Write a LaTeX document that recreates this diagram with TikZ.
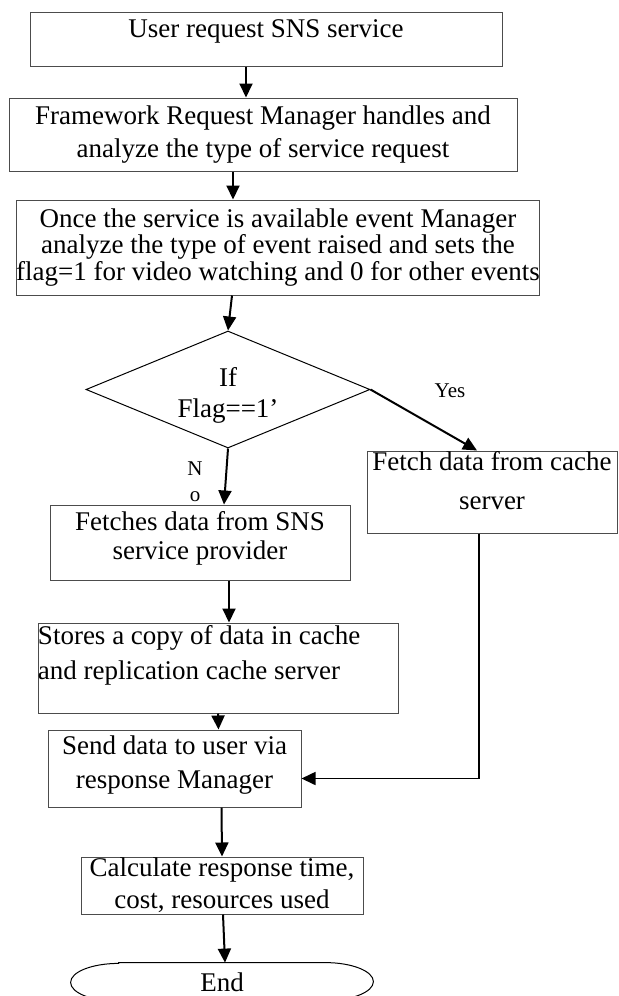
\documentclass[tikz,border=0pt]{standalone}
\usepackage{fontspec}
\setmainfont{Liberation Serif}
\usepackage{tikz}
\usetikzlibrary{arrows.meta,shapes.geometric}
\newcommand{\fsz}[1]{\fontsize{13.5}{#1}\selectfont}

\begin{document}
\begin{tikzpicture}[x=0.5pt,y=-0.5pt,
    box/.style={draw=black!70, line width=0.5pt, align=center, inner xsep=0pt, inner ysep=0pt},
    decision/.style={draw, diamond, line width=0.5pt, align=center, inner sep=0pt, shape aspect=2.4},
    arr/.style={line width=1pt, -{Triangle[length=7pt,width=6.5pt]}},
    tag/.style={font=\fontsize{10.5}{13}\selectfont, align=center}]
    \useasboundingbox (0,0) rectangle (619,996);
    \clip (0,0) rectangle (619,996);

    % Request and event handling
    \node[box, minimum width=236pt, minimum height=27pt, text depth=10pt, font=\fsz{15}] (user) at (266,39) {User request SNS service};
    \node[box, minimum width=254pt, minimum height=36.5pt, font=\fsz{16.5}] (frame) at (263,134.5) {Framework Request Manager handles and\\analyze the type of service request};
    \node[box, minimum width=261pt, minimum height=47.5pt, font=\fsz{13.25}] (event) at (278,247.5) {Once the service is available event Manager\\analyze the type of event raised and sets the\\flag=1 for video watching and 0 for other events};

    % Decision on the flag
    \node[decision, minimum width=142pt, minimum height=58.5pt, text height=31pt, font=\fsz{15.5}] (flag) at (228,389.5) {If\\Flag==1’};
    \node[tag] (yes) at (450,391) {Yes};
    \node[tag] (no) at (195,482) {N\\o};

    % Two branches
    \node[box, minimum width=125pt, minimum height=41pt, text depth=12pt, font=\fsz{19.5}] (fetch) at (492,492) {Fetch data from cache\\server};
    \node[box, minimum width=150pt, minimum height=37.5pt, text depth=7pt, font=\fsz{14.5}] (sns) at (200,542.5) {Fetches data from SNS\\service provider};
    \node[box, text width=180pt, align=flush left, minimum height=45pt, text depth=33pt, font=\fsz{17.5}] (store) at (218,668) {Stores a copy of data in cache\\and replication cache server};

    % Response and end
    \node[box, minimum width=126.5pt, minimum height=38.5pt, text depth=6.5pt, font=\fsz{17}] (send) at (174.5,768.5) {Send data to user via\\response Manager};
    \node[box, minimum width=141pt, minimum height=28.5pt, font=\fsz{16}] (calc) at (222,885.5) {Calculate response time,\\cost, resources used};
    \node[minimum width=151pt, minimum height=19pt, font=\fsz{15}] (done) at (222,982) {End};
    \draw[line width=0.5pt] ([xshift=24pt]done.north west) -- ([xshift=-24pt]done.north east)
        arc[start angle=-90, end angle=90, x radius=48, y radius=19] -- ([xshift=24pt]done.south west)
        arc[start angle=90, end angle=270, x radius=48, y radius=19] -- cycle;

    % Connectors
    \draw[arr] ([xshift=-10pt]user.south) -- ([xshift=-8.5pt]frame.north);
    \draw[arr] ([xshift=-15pt]frame.south) -- ([xshift=-22.5pt]event.north);
    \draw[arr] ([xshift=-23pt]event.south) -- (flag.north);
    \draw[arr] (flag.east) -- ([xshift=-7.5pt]fetch.north);
    \draw[arr] (flag.south) -- ([xshift=12pt]sns.north);
    \draw[arr] ([xshift=14.5pt]sns.south) -- ([xshift=5.5pt]store.north);
    \draw[arr] (store.south) -- ([xshift=22pt]send.north);
    \draw[arr] ([xshift=23.5pt]send.south) -- (calc.north);
    \draw[arr] ([xshift=0.5pt]calc.south) -- ([xshift=1.5pt]done.north);
    \draw[arr, line width=0.8pt] ([xshift=-6.5pt]fetch.south) |- ([yshift=-5pt]send.east);
\end{tikzpicture}
\end{document}
